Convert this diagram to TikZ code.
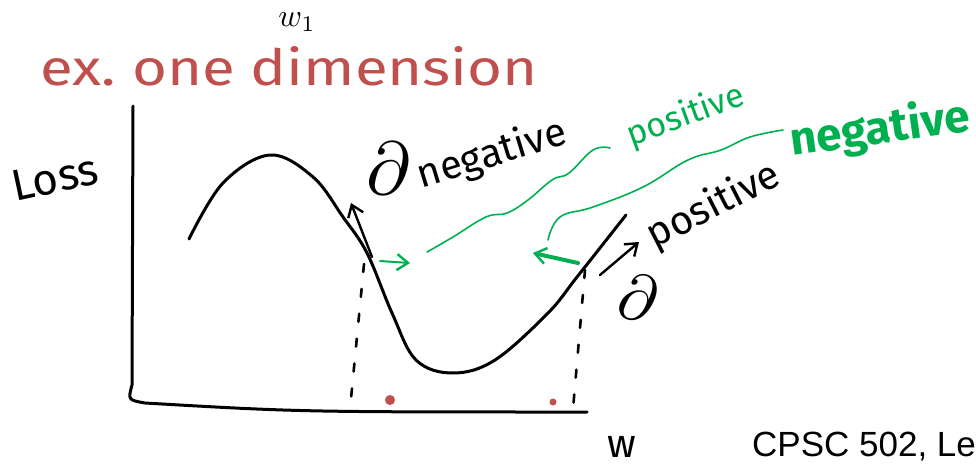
\documentclass[tikz,border=0pt]{standalone}
\usepackage{fontspec}
\setmainfont{Fira Sans}
\newfontfamily\slidefont{Liberation Sans}
\usetikzlibrary{arrows.meta}
\definecolor{inkred}{RGB}{192,80,77}
\definecolor{inkgreen}{RGB}{0,176,80}
\tikzset{
  ink/.style={line width=3pt,line cap=round,line join=round},
  guide/.style={line width=2.6pt,line cap=round,dash pattern=on 8pt off 17pt},
  wave/.style={inkgreen,line width=1.6pt,line cap=round},
  hand/.style={inner sep=0pt,font=\fontsize{40}{40}\selectfont},
  grad/.style={-{Straight Barb[length=11pt,width=16pt,line width=2.4pt]},line width=2.4pt,line cap=round},
  ggrad/.style={grad,inkgreen}
}

\begin{document}
\begin{tikzpicture}[x=1pt,y=-1pt]
\useasboundingbox (0,0) rectangle (976,463);
\node[scale=3.2] (w1) at (297,22) {$w_1$};
\node[hand,inkred,anchor=base west,font=\fontsize{50}{50}\selectfont,xscale=1.2] (title) at (40,85) {ex.\ one dimension};
\node[hand,rotate=12,font=\fontsize{44}{44}\selectfont] (loss) at (55,178) {Loss};
\coordinate (ytop) at (133,106);
\coordinate (xend) at (587,412);
\draw[ink] (ytop) -- (132,385) .. controls (128,400) .. (145,403) .. controls (300,412) .. (xend);
\draw[ink] plot[smooth,tension=0.6] coordinates {(189,239) (223,183) (270,155) (313,177) (343,217) (367,253) (392,313) (416,360) (453,373) (495,360) (548,313) (577,277) (626,215)};
\coordinate (pA) at (364,264);
\coordinate (qA) at (350,409);
\coordinate (pB) at (585,270);
\coordinate (qB) at (573,409);
\draw[guide] (pA) -- (qA);
\draw[guide] (pB) -- (qB);
\fill[inkred] (390,400) circle (5pt);
\fill[inkred] (553,402) circle (3.5pt);
\coordinate (sA) at (372,257);
\coordinate (tA) at (351,203);
\coordinate (sB) at (600,275);
\coordinate (tB) at (639,242);
\draw[grad] (sA) -- (tA);
\draw[grad] (sB) -- (tB);
\node[scale=7.5] (d1) at (388,168) {$\partial$};
\node[hand,rotate=17] (neg) at (492,155) {negative};
\node[scale=6.5,rotate=-10] (d2) at (638,298) {$\partial$};
\node[hand,rotate=27] (pos) at (714,206) {positive};
\node[hand,inkgreen,rotate=20,font=\fontsize{34}{34}\selectfont] (gpos) at (686,116) {positive};
\node[hand,inkgreen,rotate=8,font=\fontsize{46}{46}\selectfont\bfseries] (gneg) at (880,130) {negative};
\coordinate (g1) at (427,252);
\coordinate (g2) at (610,148);
\coordinate (h1) at (548,240);
\coordinate (h2) at (783,130);
\draw[wave] plot[smooth,tension=0.7] coordinates {(g1) (453,237) (486,217) (507,213) (528,200) (552,180) (569,173) (593,150) (g2)};
\draw[wave] plot[smooth,tension=0.7] coordinates {(h1) (560,217) (593,207) (643,187) (688,160) (721,150) (750,137) (h2)};
\coordinate (a1) at (380,261);
\coordinate (a2) at (410,263);
\coordinate (b1) at (578,263);
\coordinate (b2) at (533,253);
\draw[ggrad,line width=2pt] (a1) -- (a2);
\draw[ggrad,line width=4pt] (b1) -- (b2);
\node[hand,anchor=north,font=\fontsize{40}{40}\selectfont] (w) at (622,436) {w};
\node[anchor=base west,inner sep=0pt,font=\slidefont\fontsize{35}{35}\selectfont] (foot) at (752,456) {CPSC 502, Le};
\end{tikzpicture}
\end{document}
